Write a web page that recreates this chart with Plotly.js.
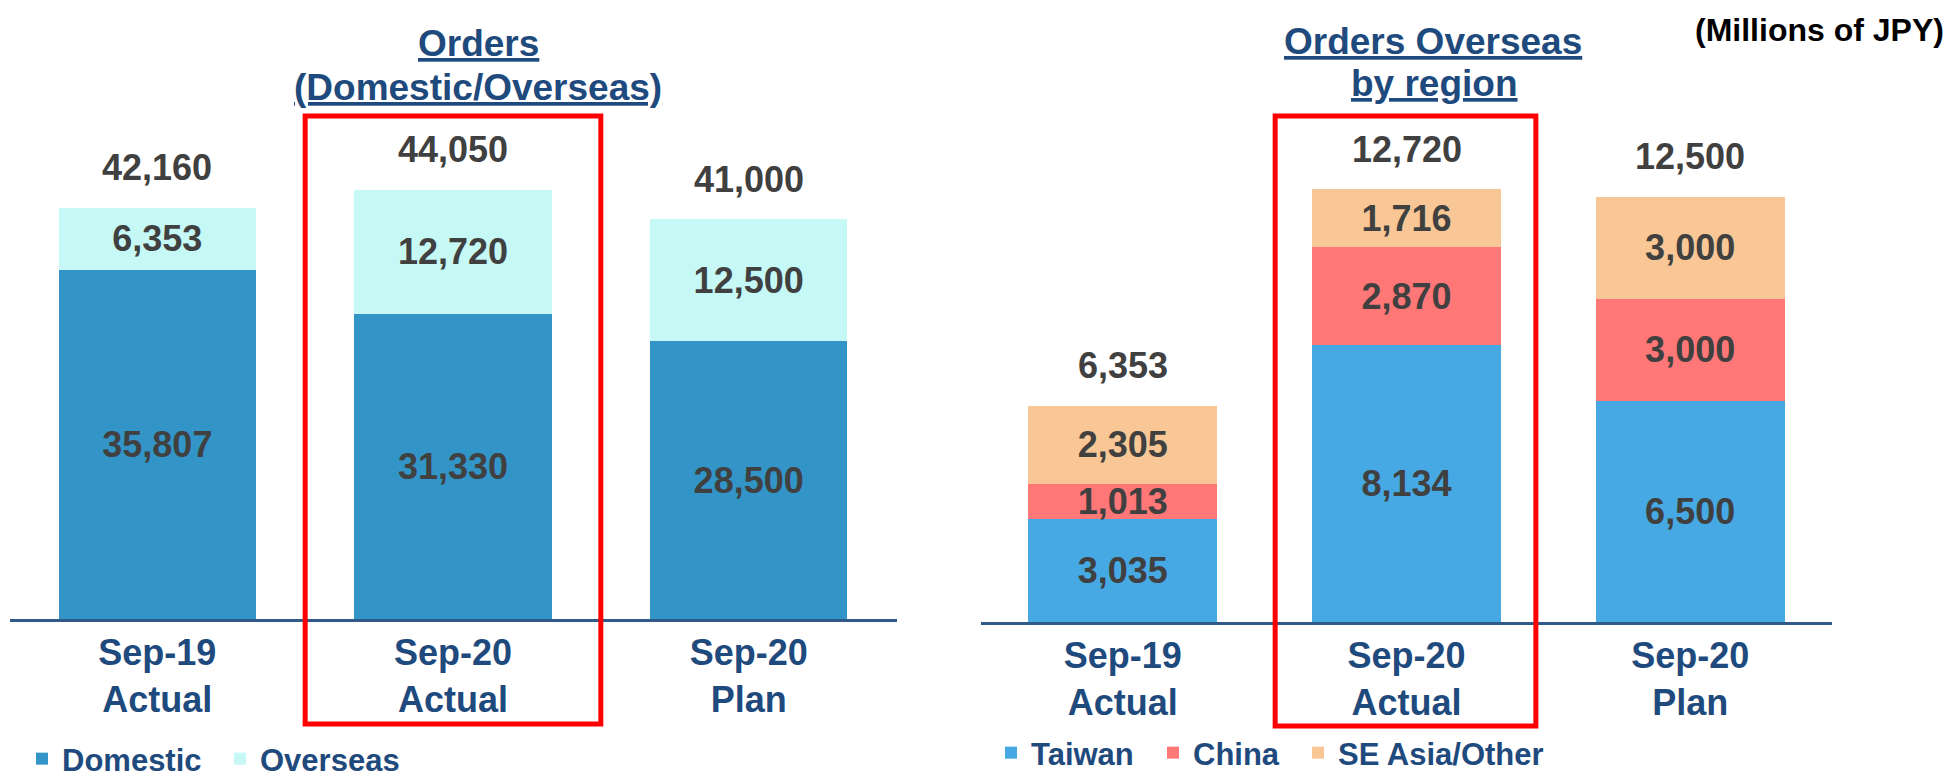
<!DOCTYPE html>
<html>
<head>
<meta charset="utf-8">
<script src="https://cdn.plot.ly/plotly-3.0.1.min.js"></script>
<style>html,body{margin:0;padding:0;background:#fff;}#chart{width:1948px;height:778px;}</style>
</head>
<body>
<div id="chart"></div>
<script>
// ---- data ----
var categories = ["Sep-19<br>Actual", "Sep-20<br>Actual", "Sep-20<br>Plan"];
var domestic = [35807, 31330, 28500];
var overseas = [6353, 12720, 12500];
var ordersTotal = [42160, 44050, 41000];
var taiwan = [3035, 8134, 6500];
var china = [1013, 2870, 3000];
var seAsiaOther = [2305, 1716, 3000];
var overseasTotal = [6353, 12720, 12500];
var leftTitle = ["Orders", "(Domestic/Overseas)"];
var rightTitle = ["Orders Overseas", "by region"];
var unitLabel = "(Millions of JPY)";

// ---- style ----
var FONT = "Liberation Sans, Arial, sans-serif";
var BLUE = "#1F4A7D";
var GREY = "#404040";
var valFont = {family: FONT, size: 36, color: GREY, weight: 700};

function barTrace(name, y, color, xa, ya, legend, lw) {
  return {
    type: "bar", name: name, x: categories, y: y,
    xaxis: xa, yaxis: ya, legend: legend, legendwidth: lw,
    marker: {color: color, line: {width: 0}},
    texttemplate: "%{y:,.0f}", textposition: "inside",
    insidetextanchor: "middle", textangle: 0, constraintext: "none",
    textfont: valFont, hoverinfo: "skip"
  };
}

var data = [
  barTrace("Domestic", domestic, "#3395C7", "x", "y", "legend", 153),
  barTrace("Overseas", overseas, "#C6F8F6", "x", "y", "legend", 150),
  barTrace("Taiwan", taiwan, "#47A9E3", "x2", "y2", "legend2", 117),
  barTrace("China", china, "#FF7777", "x2", "y2", "legend2", 100),
  barTrace("SE Asia/Other", seAsiaOther, "#F9C795", "x2", "y2", "legend2", 215)
];

var annotations = [];
categories.forEach(function (c, i) {
  annotations.push({xref: "x", yref: "y", x: c, y: ordersTotal[i], text: ordersTotal[i].toLocaleString("en-US"),
    showarrow: false, yanchor: "middle", yshift: 40, font: valFont});
  annotations.push({xref: "x2", yref: "y2", x: c, y: overseasTotal[i], text: overseasTotal[i].toLocaleString("en-US"),
    showarrow: false, yanchor: "middle", yshift: 40, font: valFont});
});
var titleFont = {family: FONT, size: 37, color: BLUE, weight: 700, lineposition: "under"};
annotations.push({xref: "paper", yref: "paper", x: 478/1948, y: 1 - 43/778, text: leftTitle[0], showarrow: false, xanchor: "center", yanchor: "middle", font: titleFont});
annotations.push({xref: "paper", yref: "paper", x: 478/1948, y: 1 - 87/778, text: leftTitle[1], showarrow: false, xanchor: "center", yanchor: "middle", font: titleFont});
annotations.push({xref: "paper", yref: "paper", x: 1433/1948, y: 1 - 41/778, text: rightTitle[0], showarrow: false, xanchor: "center", yanchor: "middle", font: titleFont});
annotations.push({xref: "paper", yref: "paper", x: 1434/1948, y: 1 - 83/778, text: rightTitle[1], showarrow: false, xanchor: "center", yanchor: "middle", font: titleFont});
annotations.push({xref: "paper", yref: "paper", x: 1946/1948, y: 1 - 30/778, text: unitLabel, showarrow: false, xanchor: "right", yanchor: "middle",
  font: {family: FONT, size: 32, color: "#000", weight: 700}});

var axisX = {
  type: "category", showline: true, linecolor: "#2F5A8A", linewidth: 2.5,
  ticks: "", showgrid: false, zeroline: false, fixedrange: true, automargin: false,
  tickfont: {family: FONT, size: 36, color: BLUE, weight: 700}
};

var legendFont = {family: FONT, size: 31, color: BLUE, weight: 700};

var layout = {
  width: 1948, height: 778,
  margin: {l: 0, r: 0, t: 0, b: 0, autoexpand: false},
  paper_bgcolor: "#fff", plot_bgcolor: "rgba(0,0,0,0)",
  barmode: "stack", bargap: 0.333,
  showlegend: true,
  xaxis: Object.assign({}, axisX, {domain: [9.5/1948, 896.5/1948], anchor: "y"}),
  yaxis: {domain: [(778-619)/778, 1], range: [0, 63490], visible: false, fixedrange: true},
  xaxis2: Object.assign({}, axisX, {domain: [981/1948, 1832/1948], anchor: "y2"}),
  yaxis2: {domain: [(778-622)/778, 1], range: [0, 18273], visible: false, fixedrange: true},
  legend: {orientation: "h", x: 22/1948, y: 1 - 759/778, xanchor: "left", yanchor: "middle",
    font: legendFont, bgcolor: "rgba(0,0,0,0)", traceorder: "normal"},
  legend2: {orientation: "h", x: 991/1948, y: 1 - 753/778, xanchor: "left", yanchor: "middle",
    font: legendFont, bgcolor: "rgba(0,0,0,0)", traceorder: "normal"},
  annotations: annotations,
  shapes: [
    {type: "rect", xref: "x", yref: "paper", x0: 0.5, x1: 1.5, y0: 1 - 724/778, y1: 1 - 116/778,
      line: {color: "#FF0000", width: 5}},
    {type: "rect", xref: "x2", yref: "paper", x0: 0.537, x1: 1.456, y0: 1 - 726/778, y1: 1 - 116/778,
      line: {color: "#FF0000", width: 5}}
  ]
};

Plotly.newPlot("chart", data, layout, {staticPlot: true, displayModeBar: false});
</script>
</body>
</html>
